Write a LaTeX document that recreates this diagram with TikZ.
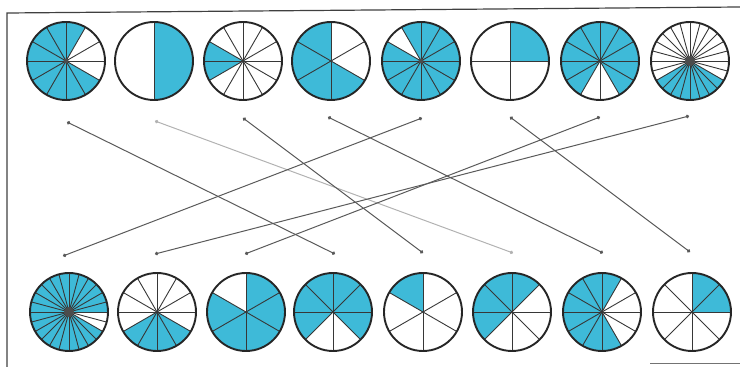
\documentclass[tikz,border=0pt]{standalone}
\usetikzlibrary{arrows.meta}
\definecolor{pieblue}{RGB}{62,186,216}
\definecolor{spokegray}{RGB}{55,55,55}
\definecolor{linkgray}{RGB}{90,90,90}
\tikzset{
  wheelnode/.style={circle,minimum size=78pt,inner sep=0pt,outer sep=0pt},
  piefill/.style={fill=pieblue},
  spoke/.style={draw=spokegray,line width=0.9pt},
  rim/.style={draw=black!85,line width=1.9pt},
  hub/.style={fill=black!70},
  link/.style={draw=linkgray,line width=1pt,{Circle[length=3.5pt]}-{Circle[length=3.5pt]}},
  lightlink/.style={link,draw=black!30},
  frame/.style={draw=black!75,line width=1.2pt}
}
\newcommand\R{39pt}
% name, x, y, n, spoke offset, fill start, fill end
\newcommand\wheel[7]{%
  \node[wheelnode] (#1) at (#2,#3) {};
  \fill[piefill] (#1.center) -- ++(#6:\R) arc[start angle=#6,end angle=#7,radius=\R] -- cycle;
  \foreach \k in {1,...,#4} \draw[spoke] (#1.center) -- ++({#5+\k*360/#4}:\R);
  \draw[rim] (#1.center) circle[radius=\R];
}
\begin{document}
\begin{tikzpicture}[x=1pt,y=1pt]
\useasboundingbox (0,0) rectangle (740,367);
% frame
\draw[frame] (7,0) -- (7,354) -- (740,360);
\draw[draw=black!55,line width=1pt] (650,3) -- (740,3);
% top row
\wheel{t1}{66}{306}{12}{0}{60}{330}
\wheel{t2}{154}{306}{2}{90}{-90}{90}
\wheel{t3}{243}{306}{12}{0}{150}{210}
\wheel{t4}{331}{306}{6}{30}{90}{330}
\wheel{t5}{421}{306}{12}{0}{150}{480}
\wheel{t6}{510}{306}{4}{0}{0}{90}
\wheel{t7}{600}{306}{12}{0}{300}{600}
\wheel{t8}{690}{306}{24}{0}{210}{330}
% bottom row
\wheel{b1}{69}{55}{24}{0}{0}{330}
\wheel{b2}{157}{55}{12}{0}{210}{330}
\wheel{b3}{246}{55}{6}{30}{150}{450}
\wheel{b4}{333}{55}{8}{0}{315}{585}
\wheel{b5}{423}{55}{6}{30}{90}{150}
\wheel{b6}{512}{55}{8}{0}{45}{225}
\wheel{b7}{602}{55}{12}{0}{60}{300}
\wheel{b8}{692}{55}{8}{0}{0}{90}
% dense hubs
\fill[hub] (t8.center) circle[radius=5pt];
\fill[hub] (b1.center) circle[radius=5pt];
\fill[hub] (t1.center) circle[radius=2.5pt];
\fill[hub] (t5.center) circle[radius=2.5pt];
% connector ends
\coordinate (ta1) at (67,245);
\coordinate (ta2) at (155,246);
\coordinate (ta3) at (243,249);
\coordinate (ta4) at (328,250);
\coordinate (ta5) at (422,249);
\coordinate (ta6) at (510,250);
\coordinate (ta7) at (600,250);
\coordinate (ta8) at (689,251);
\coordinate (ba1) at (63,111);
\coordinate (ba2) at (155,113);
\coordinate (ba3) at (245,113);
\coordinate (ba4) at (335,113);
\coordinate (ba5) at (423,114);
\coordinate (ba6) at (513,114);
\coordinate (ba7) at (603,114);
\coordinate (ba8) at (690,115);
% connectors
\draw[link] (ta1) -- (ba4);
\draw[lightlink] (ta2) -- (ba6);
\draw[link] (ta3) -- (ba5);
\draw[link] (ta4) -- (ba7);
\draw[link] (ta5) -- (ba1);
\draw[link] (ta6) -- (ba8);
\draw[link] (ta7) -- (ba3);
\draw[link] (ta8) -- (ba2);
\end{tikzpicture}
\end{document}
